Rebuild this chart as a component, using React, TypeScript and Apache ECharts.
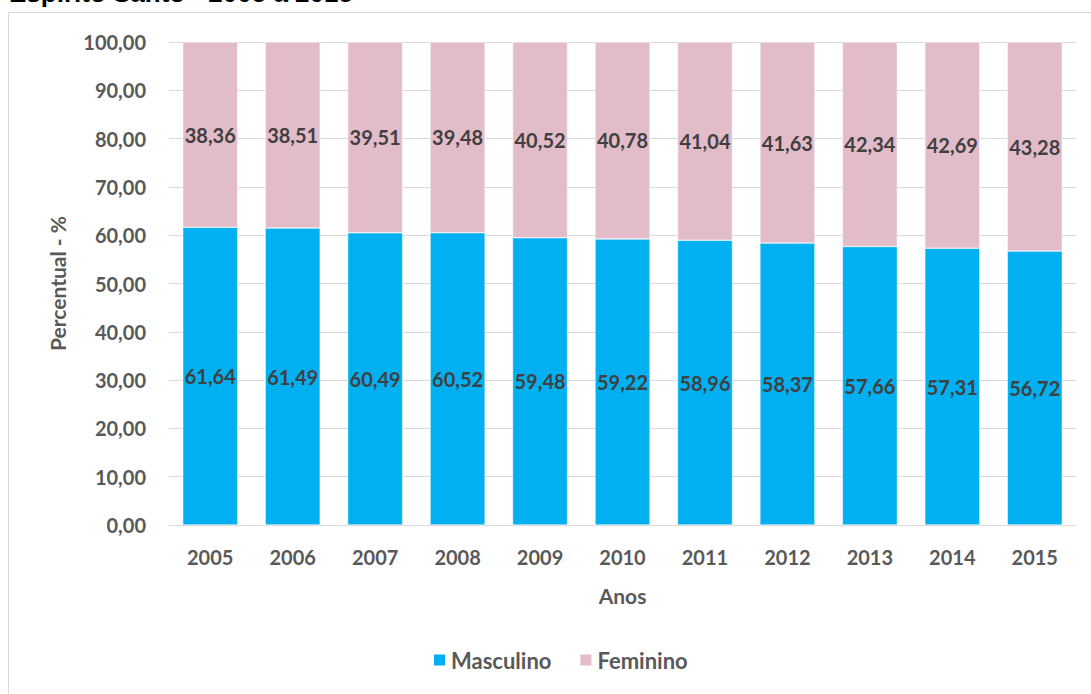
import React, { useEffect, useRef } from "react";
import * as echarts from "echarts";

const years = ["2005", "2006", "2007", "2008", "2009", "2010", "2011", "2012", "2013", "2014", "2015"];
const masculino = [61.64, 61.49, 60.49, 60.52, 59.48, 59.22, 58.96, 58.37, 57.66, 57.31, 56.72];
const feminino = [38.36, 38.51, 39.51, 39.48, 40.52, 40.78, 41.04, 41.63, 42.34, 42.69, 43.28];
const titleText = "Espírito Santo - 2005 a 2015";

const FONT = "Lato, 'Open Sans', sans-serif";
const fmt = (v: number) => v.toFixed(2).replace(".", ",");

export default function App() {
  const ref = useRef<HTMLDivElement>(null);
  useEffect(() => {
    document.body.style.margin = "0";
    const chart = echarts.init(ref.current!, null, { renderer: "svg" });
    const label = {
      show: true,
      position: "inside" as const,
      color: "#404040",
      fontFamily: FONT,
      fontWeight: "bold" as const,
      fontSize: 20,
      formatter: (p: any) => fmt(p.value),
    };
    chart.setOption({
      animation: false,
      backgroundColor: "#ffffff",
      textStyle: { fontFamily: FONT },
      graphic: [
        {
          type: "rect",
          shape: { x: 8.5, y: 12.5, width: 1090, height: 700 },
          style: { fill: "none", stroke: "#d9d9d9", lineWidth: 1 },
          silent: true,
        },
        {
          type: "text",
          x: 9,
          y: 6,
          style: {
            text: titleText,
            font: "bold 26px 'Liberation Sans', Arial, sans-serif",
            fill: "#000000",
            verticalAlign: "bottom",
          },
        },
      ],
      legend: {
        bottom: 18,
        left: 427,
        itemWidth: 13,
        itemHeight: 13,
        itemGap: 27,
        icon: "rect",
        textStyle: { color: "#595959", fontSize: 22, fontWeight: "bold", fontFamily: FONT },
        data: ["Masculino", "Feminino"],
      },
      grid: { left: 169, right: 15, top: 42, bottom: 169, containLabel: false },
      xAxis: {
        type: "category",
        data: years,
        name: "Anos",
        nameLocation: "middle",
        nameGap: 60,
        nameTextStyle: { color: "#595959", fontSize: 21, fontWeight: "bold", fontFamily: FONT },
        axisLine: { lineStyle: { color: "#d9d9d9", width: 1 } },
        axisTick: { show: false },
        axisLabel: { color: "#595959", fontSize: 20, fontWeight: "bold", fontFamily: FONT, margin: 22 },
      },
      yAxis: {
        type: "value",
        min: 0,
        max: 100,
        interval: 10,
        name: "Percentual - %",
        nameLocation: "middle",
        nameGap: 101,
        nameTextStyle: { color: "#595959", fontSize: 21, fontWeight: "bold", fontFamily: FONT },
        axisLine: { show: false },
        axisTick: { show: false },
        splitLine: { lineStyle: { color: "#d9d9d9", width: 1 } },
        axisLabel: {
          color: "#595959",
          fontSize: 20,
          fontWeight: "bold",
          fontFamily: FONT,
          margin: 23,
          formatter: (v: number) => fmt(v),
        },
      },
      series: [
        {
          name: "Masculino",
          type: "bar",
          stack: "total",
          barWidth: 55,
          data: masculino,
          itemStyle: { color: "#00B0F0", borderColor: "#ffffff", borderWidth: 0.5 },
          label,
        },
        {
          name: "Feminino",
          type: "bar",
          stack: "total",
          barWidth: 55,
          data: feminino,
          itemStyle: { color: "#E3BCCA", borderColor: "#ffffff", borderWidth: 0.5 },
          label,
        },
      ],
    });
    return () => chart.dispose();
  }, []);
  return <div ref={ref} style={{ width: 1091, height: 694, position: "absolute", left: 0, top: 0 }} />;
}
